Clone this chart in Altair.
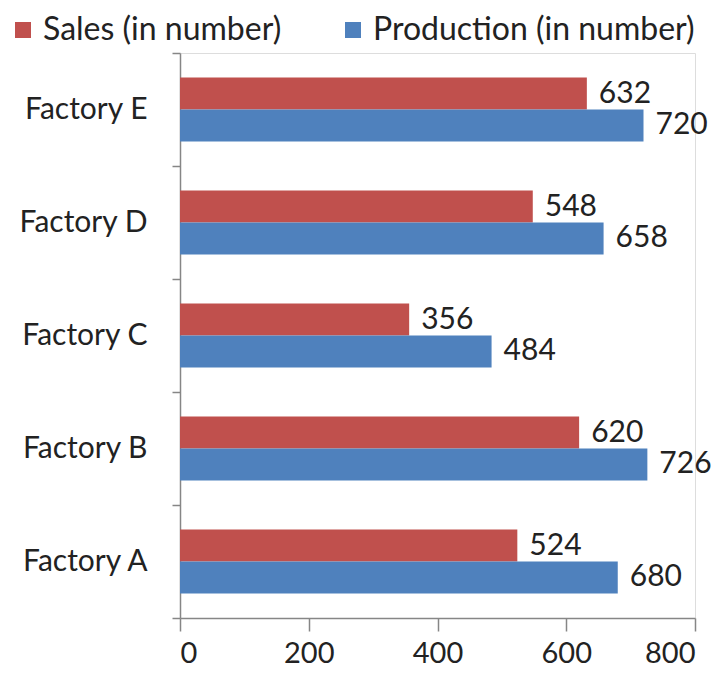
import altair as alt
import pandas as pd

factories = ["Factory A", "Factory B", "Factory C", "Factory D", "Factory E"]
sales = [524, 620, 356, 548, 632]
production = [680, 726, 484, 658, 720]
series = ["Sales (in number)", "Production (in number)"]
colors = ["#C0504D", "#4F81BD"]
x_ticks = [0, 200, 400, 600, 800]

rows = []
for f, s, p in zip(factories, sales, production):
    rows.append({"factory": f, "series": series[0], "value": s})
    rows.append({"factory": f, "series": series[1], "value": p})
df = pd.DataFrame(rows)

FONT = "Lato"
y_order = list(reversed(factories))

base = alt.Chart(df).encode(
    y=alt.Y("factory:N", sort=y_order, title=None,
            scale=alt.Scale(paddingInner=0, paddingOuter=0),
            axis=alt.Axis(tickBand="extent", labelFontSize=30, labelFont=FONT,
                          labelColor="#222222", labelPadding=25, tickSize=8,
                          domainColor="#868686", tickColor="#868686",
                          domainWidth=1.5, tickWidth=1.5, grid=False)),
    yOffset=alt.YOffset("series:N", sort=series,
                        scale=alt.Scale(paddingInner=0, paddingOuter=0.766)),
)

bars = base.mark_bar().encode(
    x=alt.X("value:Q", title=None,
            scale=alt.Scale(domain=[0, 800], nice=False),
            axis=alt.Axis(values=x_ticks, labelFontSize=29, labelFont=FONT,
                          labelColor="#222222", tickSize=13, labelPadding=8,
                          domainColor="#868686", tickColor="#868686",
                          domainWidth=1.5, tickWidth=1.5, grid=False)),
    color=alt.Color("series:N", sort=series,
                    scale=alt.Scale(domain=series, range=colors),
                    legend=alt.Legend(title=None, orient="none", direction="horizontal",
                                      legendX=-173, legendY=-39, symbolType="square",
                                      symbolSize=256, symbolStrokeWidth=0,
                                      labelFontSize=32, labelFont=FONT,
                                      labelColor="#222222", labelOffset=4,
                                      columnPadding=55, padding=0, labelLimit=400)),
)

labels = base.mark_text(align="left", baseline="middle", dx=12,
                        fontSize=30, font=FONT, color="#222222").encode(
    x=alt.X("value:Q"),
    text=alt.Text("value:Q"),
)

chart = (bars + labels).properties(
    width=515, height=565,
    autosize=alt.AutoSizeParams(type="none"),
    padding={"left": 172, "top": 45, "right": 20, "bottom": 49},
).configure_view(stroke=None).configure(background="white")

chart.save("out.html", embed_options={"renderer": "svg", "actions": False})
